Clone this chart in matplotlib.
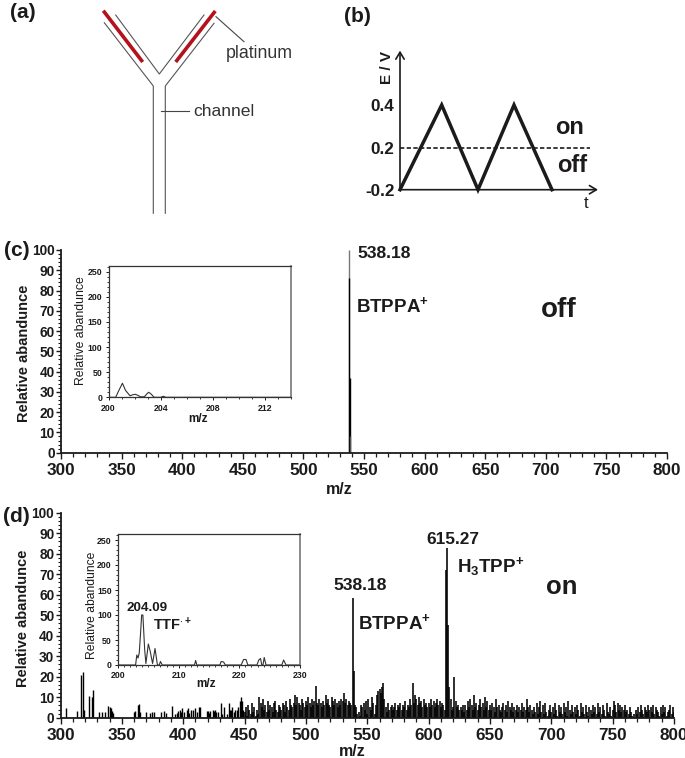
import numpy as np
import matplotlib
matplotlib.use("Agg")
import matplotlib.pyplot as plt
from matplotlib.ticker import MultipleLocator

plt.rcParams['font.family'] = ['Liberation Sans', 'DejaVu Sans']
plt.rcParams['mathtext.fontset'] = 'custom'
plt.rcParams['mathtext.bf'] = 'Liberation Sans:bold'
plt.rcParams['mathtext.rm'] = 'Liberation Sans'

W, H = 685, 758
INK = '#1c1a1a'

# ---- data ----
# panel (a) schematic outline, in picture pixels
channel_left_x = [104.3, 153.3, 153.3]
channel_left_y = [22.7, 86.0, 213.3]
channel_mid_x = [115.7, 159.3, 204.0]
channel_mid_y = [15.0, 74.0, 15.0]
channel_right_x = [214.0, 165.3, 165.3]
channel_right_y = [23.3, 86.0, 213.3]
electrode_left_x = [103.3, 142.7]
electrode_left_y = [10.7, 62.0]
electrode_right_x = [215.3, 175.7]
electrode_right_y = [11.0, 62.0]
leader_platinum_x = [216.0, 244.0]
leader_platinum_y = [16.7, 41.7]
leader_channel_x = [161.3, 188.7]
leader_channel_y = [111.3, 111.3]

# panel (b)
wave_t = [0, 41.7, 78, 114, 152]
wave_E = [-0.2, 0.4, -0.2, 0.4, -0.2]
threshold_E = 0.2
E_ticks = [-0.2, 0.2, 0.4]
E_tick_labels = ['-0.2', '0.2', '0.4']

# panel (c) main
c_mz = [537.6, 537.8, 538.3, 538.8]
c_ab = [100, 86, 37, 8]
c_colors = ['#777777', 'black', 'black', '#555555']
# panel (c) inset
ci_mz = [200, 200.55, 200.8, 201.07, 201.3, 201.65, 201.85, 202.05, 202.25, 202.45,
         202.75, 202.95, 203.08, 203.25, 203.5, 204.0, 204.2, 204.4, 214]
ci_ab = [0, 0, 14, 28, 14, 3, 5, 6, 4, 1, 1, 7, 10, 7, 0, 0, 2, 0, 0]

# panel (d) inset
di_mz = [200, 202.9, 203.1, 203.3, 203.5, 203.7, 203.9, 204.1, 204.4, 204.6, 205.0, 205.3, 205.7,
         206.1, 206.5, 206.8, 207.0, 207.3, 212.6, 212.8, 213.0, 216.8, 217.0, 217.4, 217.7,
         220.3, 220.7, 221.1, 221.4, 222.9, 223.2, 223.5, 223.7, 223.9, 224.1, 224.4,
         227.0, 227.3, 227.7, 230]
di_ab = [0, 0, 20, 14, 24, 60, 100, 100, 30, 3, 42, 28, 3,
         33, 0, 0, 7, 0, 0, 9, 0, 0, 7, 6, 0,
         0, 11, 11, 0, 0, 10, 13, 0, 0, 15, 0,
         0, 10, 0, 0]

# panel (d) main: sparse low-mass sticks
d_low_mz = [304.5, 313.5, 317, 318, 319, 323, 325.5, 326.5, 331, 334, 336, 339, 340, 341, 342, 343,
            360, 361, 363, 364, 365, 370, 373, 374.5, 376.5, 382, 384, 386, 391, 393, 395, 396, 397,
            398, 399, 401, 403, 404, 405, 406, 408, 410, 411, 413, 414, 419, 420, 421, 422, 424, 425,
            426, 427, 428, 431, 432, 433, 436, 437, 438, 439, 440, 441, 442, 444, 445, 446, 447, 448, 449]
d_low_ab = [4.5, 3.5, 21, 22.5, 4, 10.5, 10, 13.5, 3, 3, 3, 5.5, 5, 4.5, 3.5, 2.5,
            3, 3.5, 6, 6.5, 3, 3, 2.5, 3, 3, 3, 3.5, 2.5, 5.5, 2, 2.5, 3.5, 4,
            3, 4.5, 3, 4, 4.5, 2.5, 4, 4, 4.5, 3, 5, 5, 3.5, 3.5, 2.5, 3.5, 4, 3.5,
            4, 3, 3, 7, 2, 5, 2, 7, 4, 4, 5, 3, 4, 4, 5, 8, 10, 8, 4]
# panel (d) main: one stick per m/z from 450 to 800
d_high_start = 450
d_high_ab = [3, 5, 1, 6, 4, 2, 7, 3, 5, 1,
             4, 2, 10, 7, 5, 9, 4, 6, 3, 8,
             4, 6, 5, 3, 7, 8, 4, 3, 6, 5,
             4, 7, 6, 3, 8, 5, 4, 9, 6, 5,
             7, 11, 6, 10, 7, 6, 4, 9, 7, 5,
             8, 6, 10, 7, 5, 9, 6, 8, 15.5, 7,
             6, 9, 7, 5, 8, 6, 11, 7, 9, 6,
             5, 10, 8, 6, 9, 7, 5, 8, 6, 9,
             8, 12, 7, 9, 6, 8, 7, 6, 58.5, 23,
             6, 5, 2, 3, 1, 6, 5, 7, 4, 8,
             2, 9, 5, 4, 10, 7, 2, 6, 11, 13,
             14, 12, 15, 17, 9, 5, 3, 7, 4, 5,
             6, 4, 5, 7, 4, 6, 5, 7, 4, 6,
             5, 8, 4, 6, 5, 9, 6, 17, 7, 11,
             9, 6, 10, 7, 8, 5, 9, 6, 7, 5,
             7, 5, 9, 6, 8, 5, 7, 9, 6, 8,
             5, 7, 6, 4, 72, 83, 45, 15, 9, 4,
             5, 20, 8, 5, 6, 4, 5, 4, 6, 3,
             6, 4, 8, 5, 9, 6, 4, 11, 5, 7,
             4, 6, 9, 5, 7, 4, 10, 5, 8, 4,
             6, 4, 7, 5, 3, 9, 5, 6, 4, 3,
             5, 7, 4, 6, 3, 8, 5, 4, 7, 3,
             5, 4, 6, 3, 5, 4, 7, 3, 5, 4,
             9, 5, 3, 6, 4, 2, 5, 3, 7, 2,
             5, 8, 3, 6, 2, 7, 3, 1, 4, 6,
             3, 5, 2, 7, 4, 1, 6, 3, 5, 2,
             7, 3, 5, 1, 8, 4, 2, 6, 3, 5,
             2, 6, 4, 1, 7, 3, 5, 2, 6, 3,
             1, 5, 4, 2, 6, 3, 5, 2, 7, 3,
             5, 2, 6, 4, 1, 7, 3, 2, 5, 1,
             4, 8, 6, 3, 7, 4, 6, 3, 5, 4,
             6, 3, 4, 2, 5, 3, 1, 2, 0, 4,
             2, 5, 3, 6, 4, 2, 5, 4, 3, 6,
             4, 5, 3, 6, 2, 5, 4, 3, 1, 5,
             2, 6, 3, 5, 1, 3, 4, 6, 2, 5,
             3]

main_ylabel = 'Relative abandunce'
# ---- end data ----


def px_axes(l, t, r, b, **kw):
    return fig.add_axes([l / W, 1 - b / H, (r - l) / W, (b - t) / H], **kw)


def txt(x, y, s, size=11, weight='bold', ha='center', va='center', rot=0, color=INK):
    over.text(x, y, s, fontsize=size, fontweight=weight, ha=ha, va=va, rotation=rot, color=color)


def style_main(ax):
    ax.set_xlim(300, 800)
    ax.set_ylim(0, 100)
    for s in ('top', 'right'):
        ax.spines[s].set_visible(False)
    for s in ('left', 'bottom'):
        ax.spines[s].set_linewidth(1.3)
        ax.spines[s].set_color(INK)
    ax.xaxis.set_major_locator(MultipleLocator(50))
    ax.xaxis.set_minor_locator(MultipleLocator(10))
    ax.yaxis.set_major_locator(MultipleLocator(10))
    ax.yaxis.set_minor_locator(MultipleLocator(2))
    ax.tick_params(axis='x', which='major', length=4.5, width=1.0, pad=3, labelsize=12.3, color=INK, labelcolor=INK)
    ax.tick_params(axis='x', which='minor', length=3, width=0.9, color=INK)
    ax.tick_params(axis='y', which='major', length=3.5, width=1.0, pad=1, labelsize=9.8, color=INK, labelcolor=INK)
    ax.tick_params(axis='y', which='minor', length=2, width=0.8, color=INK)
    for lab in ax.get_xticklabels() + ax.get_yticklabels():
        lab.set_fontweight('bold')
    ax.patch.set_alpha(0)


def style_inset(ax, xlim, xmajor, xminor):
    ax.set_xlim(*xlim)
    ax.set_ylim(0, 262)
    for s in ax.spines.values():
        s.set_linewidth(0.9)
        s.set_color('#333333')
    ax.spines['right'].set_color('#777777')
    ax.spines['right'].set_linewidth(1.2)
    ax.xaxis.set_major_locator(MultipleLocator(xmajor))
    ax.xaxis.set_minor_locator(MultipleLocator(xminor))
    ax.yaxis.set_major_locator(MultipleLocator(50))
    ax.yaxis.set_minor_locator(MultipleLocator(10))
    ax.tick_params(axis='both', which='major', length=2.5, width=0.7, pad=2, labelsize=6.3, color=INK, labelcolor=INK)
    ax.tick_params(axis='both', which='minor', length=1.5, width=0.6, color=INK)
    for lab in ax.get_xticklabels() + ax.get_yticklabels():
        lab.set_fontweight('bold')


fig = plt.figure(figsize=(W / 100, H / 100), dpi=100)

# overlay in picture pixels, for the schematic and free text
over = fig.add_axes([0, 0, 1, 1], zorder=10)
over.set_xlim(0, W)
over.set_ylim(H, 0)
over.axis('off')

# (a)
for xs, ys in ((channel_left_x, channel_left_y), (channel_mid_x, channel_mid_y), (channel_right_x, channel_right_y)):
    over.plot(xs, ys, color='#555555', lw=0.8)
for xs, ys in ((electrode_left_x, electrode_left_y), (electrode_right_x, electrode_right_y)):
    over.plot(xs, ys, color='#b3121d', lw=2.6, solid_capstyle='butt')
for xs, ys in ((leader_platinum_x, leader_platinum_y), (leader_channel_x, leader_channel_y)):
    over.plot(xs, ys, color='#444444', lw=0.8)
txt(259, 53, 'platinum', size=12.8, weight='normal', color='#333333')
txt(224, 111, 'channel', size=12.6, weight='normal', color='#333333')
txt(23, 13, '(a)', size=15)
txt(357, 17, '(b)', size=15)
txt(17, 251, '(c)', size=15)
txt(16, 516, '(d)', size=15)

# (b)
ax_b = px_axes(400, 52, 598, 189.7)
pts_E = [-0.2, 0.2, 0.4, 0.75]
pts_h = [0, 41.7, 84.7, 137.7]
ax_b.set_yscale('function', functions=(lambda v: np.interp(v, pts_E, pts_h),
                                       lambda h: np.interp(h, pts_h, pts_E)))
ax_b.set_xlim(0, 198)
ax_b.set_ylim(-0.2, 0.75)
for s in ax_b.spines.values():
    s.set_visible(False)
ax_b.plot(wave_t, wave_E, color=INK, lw=2.5, solid_joinstyle='miter', clip_on=False)
ax_b.plot([0, 190], [threshold_E, threshold_E], color=INK, lw=1.2, ls=(0, (2.6, 1.4)))
ax_b.annotate('', xy=(0, 1.01), xytext=(0, 0), xycoords='axes fraction',
              arrowprops=dict(arrowstyle='->,head_width=0.3,head_length=0.5', color=INK, lw=1.2, shrinkA=0, shrinkB=0))
ax_b.annotate('', xy=(1.0, 0), xytext=(0, 0), xycoords='axes fraction',
              arrowprops=dict(arrowstyle='->,head_width=0.3,head_length=0.5', color=INK, lw=1.2, shrinkA=0, shrinkB=0))
ax_b.set_xticks([])
ax_b.set_yticks(E_ticks)
ax_b.set_yticklabels(E_tick_labels, fontweight='bold', fontsize=12.3, color=INK)
ax_b.minorticks_off()
ax_b.tick_params(axis='y', length=0, pad=4)
ax_b.patch.set_alpha(0)
txt(387, 67, 'E / V', size=11, rot=90)
txt(570, 128, 'on', size=17)
txt(572, 165, 'off', size=17)
txt(586, 204, 't', size=12, weight='normal')

# (c)
ax_c = px_axes(61, 250, 667, 452.7)
ax_c.vlines(c_mz, 0, c_ab, colors=c_colors, lw=1.0)
style_main(ax_c)
txt(24, 353, main_ylabel, size=10.5, rot=90)
txt(339, 489, 'm/z', size=11.5)
txt(357, 254, '538.18', size=12.6, ha='left')
txt(356, 306, r'$\mathbf{BTPPA^{+}}$', size=13.5, ha='left')
txt(559, 310, 'off', size=20)

ax_ci = px_axes(108.5, 265.7, 291, 397.3)
ax_ci.plot(ci_mz, ci_ab, color='#333333', lw=0.8)
style_inset(ax_ci, (200, 214), 4, 1)
txt(81, 331, main_ylabel, size=8.8, weight='normal', rot=90)
txt(198, 419, 'm/z', size=8.5)

# (d)
ax_d = px_axes(60.5, 512.7, 674, 717.7)
d_high_mz = np.arange(d_high_start, d_high_start + len(d_high_ab))
ax_d.vlines(d_low_mz, 0, d_low_ab, color='black', lw=1.0)
ax_d.vlines(d_high_mz, 0, d_high_ab, color='black', lw=1.15)
style_main(ax_d)
txt(23, 618, main_ylabel, size=10.5, rot=90)
txt(352, 751, 'm/z', size=11.5)
txt(387, 586, '538.18', size=12.6, ha='right')
txt(358, 623, r'$\mathbf{BTPPA^{+}}$', size=13.5, ha='left')
txt(426, 539, '615.27', size=12.4, ha='left')
txt(457, 567, r'$\mathbf{H_{3}TPP^{+}}$', size=13.5, ha='left')
txt(562, 587, 'on', size=18.5)

ax_di = px_axes(118, 534, 300, 665)
ax_di.plot(di_mz, di_ab, color='#333333', lw=0.8)
style_inset(ax_di, (200, 230), 10, 1)
txt(92, 605, main_ylabel, size=8.7, weight='normal', rot=90)
txt(206, 684, 'm/z', size=8.5)
txt(147, 608, '204.09', size=9.7)
txt(153, 625, r'$\mathbf{TTF^{\cdot+}}$', size=10.5, ha='left')

fig.savefig('out.png', dpi=100)
